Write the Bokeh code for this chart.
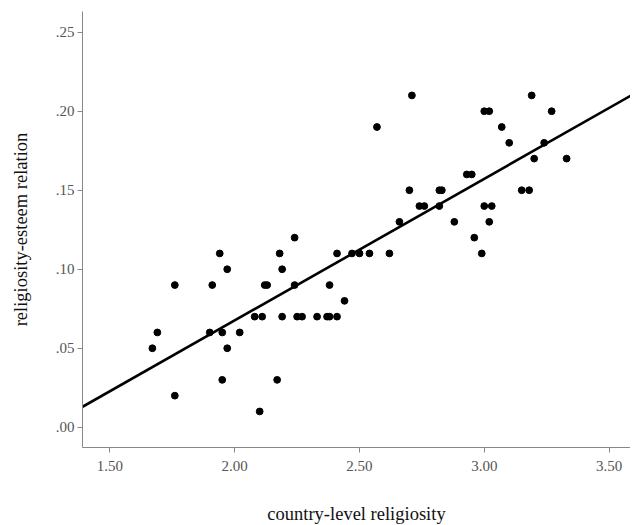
import numpy as np
from bokeh.plotting import figure
from bokeh.models import FixedTicker, Range1d
from bokeh.embed import file_html
from bokeh.resources import INLINE

# country-level religiosity (x) and religiosity-esteem relation (y)
religiosity = [
    2.71, 3.19,
    3.00, 3.02, 3.27,
    2.57, 3.07,
    3.10, 3.24,
    3.20, 3.33,
    2.93, 2.95,
    2.70, 2.82, 2.83, 3.15, 3.18,
    2.74, 2.76, 2.82, 3.00, 3.03,
    2.66, 2.88, 3.02,
    2.24, 2.96,
    1.94, 2.18, 2.41, 2.47, 2.50, 2.54, 2.62, 2.99,
    1.97, 2.19,
    1.76, 1.91, 2.12, 2.13, 2.24, 2.38,
    2.44,
    2.08, 2.11, 2.19, 2.25, 2.27, 2.33, 2.37, 2.38, 2.41,
    1.69, 1.90, 1.95, 2.02,
    1.67, 1.97,
    1.95, 2.17,
    1.76,
    2.10,
]
esteem_relation = [
    0.21, 0.21,
    0.20, 0.20, 0.20,
    0.19, 0.19,
    0.18, 0.18,
    0.17, 0.17,
    0.16, 0.16,
    0.15, 0.15, 0.15, 0.15, 0.15,
    0.14, 0.14, 0.14, 0.14, 0.14,
    0.13, 0.13, 0.13,
    0.12, 0.12,
    0.11, 0.11, 0.11, 0.11, 0.11, 0.11, 0.11, 0.11,
    0.10, 0.10,
    0.09, 0.09, 0.09, 0.09, 0.09, 0.09,
    0.08,
    0.07, 0.07, 0.07, 0.07, 0.07, 0.07, 0.07, 0.07, 0.07,
    0.06, 0.06, 0.06, 0.06,
    0.05, 0.05,
    0.03, 0.03,
    0.02,
    0.01,
]

x_ticks = [1.5, 2.0, 2.5, 3.0, 3.5]
x_tick_labels = ["1.50", "2.00", "2.50", "3.00", "3.50"]
y_ticks = [0.0, 0.05, 0.10, 0.15, 0.20, 0.25]
y_tick_labels = [".00", ".05", ".10", ".15", ".20", ".25"]

x_lo, x_hi = 1.39, 3.586
y_lo, y_hi = -0.0128, 0.2631

SERIF = "Liberation Serif"

p = figure(
    output_backend="svg", toolbar_location=None,
    frame_width=548, frame_height=436,
    min_border_left=82, min_border_right=0, min_border_top=11, min_border_bottom=76,
    x_range=Range1d(x_lo, x_hi), y_range=Range1d(y_lo, y_hi),
    outline_line_color=None, background_fill_color="white",
)
p.grid.visible = False

# regression line (least squares fit of the points)
slope, intercept = np.polyfit(religiosity, esteem_relation, 1)
xs = np.array([x_lo, x_hi])
p.line(xs, slope * xs + intercept, line_color="black", line_width=2.6)

p.scatter(religiosity, esteem_relation, size=6.8, color="black")

for ax, ticks, labels in ((p.xaxis[0], x_ticks, x_tick_labels), (p.yaxis[0], y_ticks, y_tick_labels)):
    ax.ticker = FixedTicker(ticks=ticks)
    ax.major_label_overrides = {t: l for t, l in zip(ticks, labels)}
    ax.axis_line_color = "#888888"
    ax.major_tick_line_color = "#888888"
    ax.major_tick_out = 5
    ax.major_tick_in = 0
    ax.minor_tick_line_color = None
    ax.major_label_text_font = SERIF
    ax.major_label_text_font_size = "15px"
    ax.major_label_text_color = "#555555"
    ax.axis_label_text_font = SERIF
    ax.axis_label_text_font_size = "18.5px"
    ax.axis_label_text_font_style = "normal"
    ax.axis_label_text_color = "#111111"

p.xaxis.axis_label = "country-level religiosity"
p.yaxis.axis_label = "religiosity-esteem relation"
p.xaxis.major_label_standoff = 8
p.xaxis.axis_label_standoff = 30
p.yaxis.major_label_standoff = 3
p.yaxis.axis_label_standoff = 22

open("out.html", "w").write(file_html(p, INLINE))
